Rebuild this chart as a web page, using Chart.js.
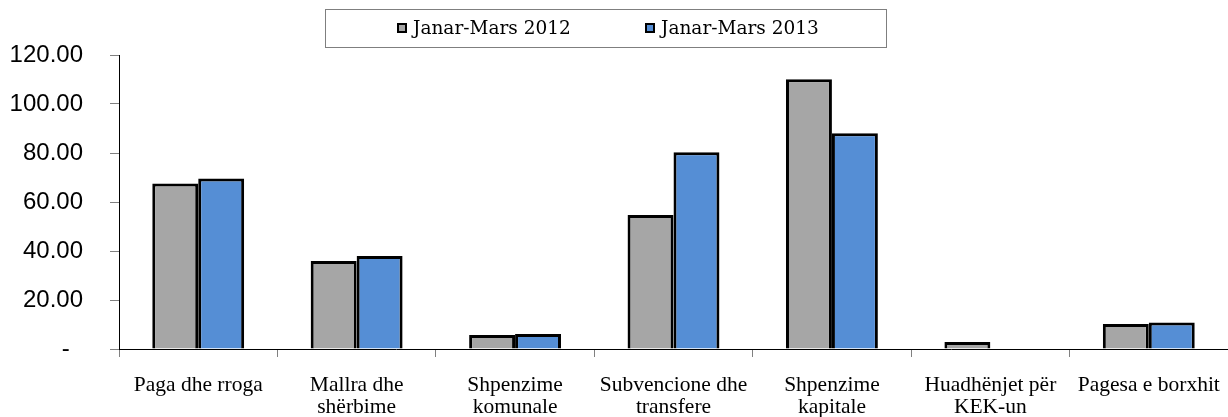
<!DOCTYPE html>
<html><head><meta charset="utf-8">
<script src="https://cdn.jsdelivr.net/npm/chart.js@4.4.0/dist/chart.umd.min.js"></script>
<style>html,body{margin:0;padding:0;background:#fff;overflow:hidden}#wrap{width:1228px;height:417px;position:relative}</style>
</head><body><div id="wrap"><canvas id="c" width="1228" height="417"></canvas></div>
<script>
const categories = [["Paga dhe rroga"],["Mallra dhe","shërbime"],["Shpenzime","komunale"],["Subvencione dhe","transfere"],["Shpenzime","kapitale"],["Huadhënjet për","KEK-un"],["Pagesa e borxhit"]];
const seriesNames = ["Janar-Mars 2012","Janar-Mars 2013"];
const values2012 = [67.6, 35.9, 5.7, 54.7, 110.1, 2.9, 10.2];
const values2013 = [69.6, 38.0, 6.1, 80.3, 88.1, 0, 10.8];
const yTickValues = [0, 20, 40, 60, 80, 100, 120];

const boxLegend = {
  id: 'boxLegend',
  afterDraw(chart) {
    const ctx = chart.ctx;
    ctx.save();
    ctx.strokeStyle = '#7f7f7f';
    ctx.lineWidth = 1;
    ctx.strokeRect(325.5, 9.5, 561, 38);
    const xs = [397, 645];
    ctx.font = '18.5px "DejaVu Serif"';
    ctx.textBaseline = 'middle';
    ctx.textAlign = 'left';
    chart.data.datasets.forEach((ds, i) => {
      ctx.fillStyle = ds.backgroundColor;
      ctx.fillRect(xs[i], 23, 10, 10);
      ctx.strokeStyle = '#000';
      ctx.lineWidth = 2;
      ctx.strokeRect(xs[i] + 1, 24, 8, 8);
      ctx.fillStyle = '#000';
      ctx.fillText(ds.label, xs[i] + 16, 29);
    });
    ctx.restore();
  }
};

new Chart(document.getElementById('c'), {
  type: 'bar',
  data: {
    labels: categories,
    datasets: [
      { label: seriesNames[0], data: values2012, backgroundColor: '#A6A6A6', borderColor: '#000', borderWidth: 3 },
      { label: seriesNames[1], data: values2013, backgroundColor: '#558ED5', borderColor: '#000', borderWidth: 3 }
    ]
  },
  options: {
    responsive: false,
    animation: false,
    devicePixelRatio: 1,
    layout: { padding: { top: 55, left: 0, right: 0, bottom: 0 } },
    datasets: { bar: { categoryPercentage: 0.58, barPercentage: 1 } },
    plugins: { legend: { display: false }, tooltip: { enabled: false } },
    scales: {
      x: {
        offset: true,
        grid: { display: true, drawOnChartArea: false, offset: true, tickLength: 8, color: '#808080' },
        border: { color: '#000', width: 1 },
        ticks: {
          color: '#000', maxRotation: 0, autoSkip: false, padding: 17,
          font: { family: '"Liberation Serif", "Times New Roman", serif', size: 21.5, lineHeight: 1.02 }
        },
        afterFit(scale) { scale.height = 68; scale.paddingLeft = 0; scale.paddingRight = 0; }
      },
      y: {
        min: 0, max: 120,
        afterBuildTicks(scale) { scale.ticks = yTickValues.map(v => ({ value: v })); },
        grid: { display: true, drawOnChartArea: false, tickLength: 9, color: '#808080' },
        border: { color: '#000', width: 1 },
        ticks: {
          color: '#000', padding: 27,
          font: { family: '"Liberation Sans", Arial, sans-serif', size: 24 },
          callback: (v) => v === 0 ? '-  ' : Number(v).toFixed(2)
        },
        afterFit(scale) { scale.width = 119; }
      }
    }
  },
  plugins: [boxLegend]
});
</script>
</body></html>
